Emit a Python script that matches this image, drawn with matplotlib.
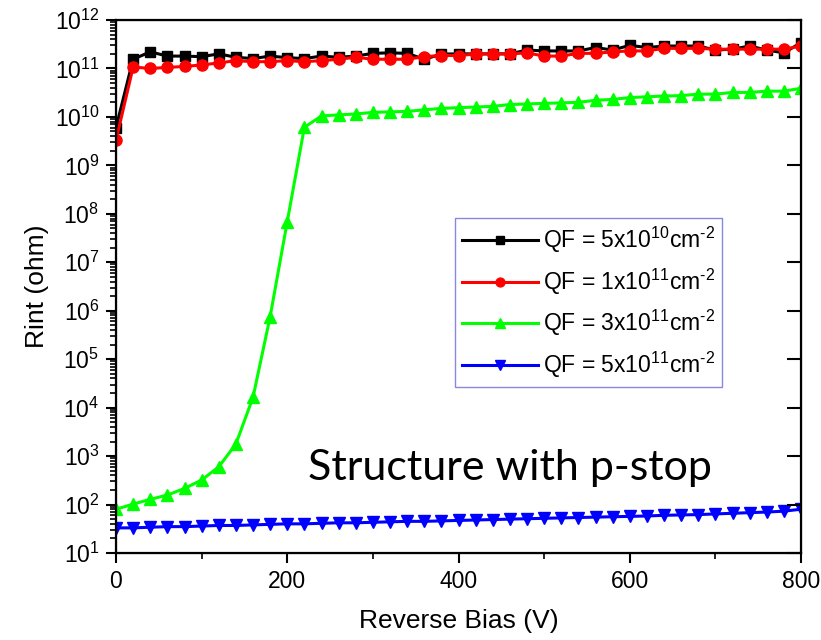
import matplotlib
matplotlib.use('Agg')
import matplotlib.pyplot as plt
from matplotlib.ticker import LogLocator, MultipleLocator, NullFormatter

plt.rcParams['font.family'] = ['Liberation Sans', 'DejaVu Sans']
plt.rcParams['mathtext.fontset'] = 'custom'
plt.rcParams['mathtext.rm'] = 'Liberation Sans'

# Reverse bias (V), every 20 V
bias = list(range(0, 801, 20))

# Rint (ohm)
qf_5e10 = [6e9, 1.55e11, 2.2e11, 1.8e11, 1.8e11, 1.75e11, 2.0e11, 1.7e11, 1.6e11, 1.8e11,
           1.67e11, 1.6e11, 1.8e11, 1.7e11, 1.8e11, 2.05e11, 2.1e11, 2.05e11, 1.55e11, 1.98e11,
           2.0e11, 2.0e11, 2.0e11, 2.0e11, 2.4e11, 2.3e11, 2.3e11, 2.3e11, 2.7e11, 2.4e11,
           3.0e11, 2.7e11, 2.9e11, 2.9e11, 2.9e11, 2.4e11, 2.5e11, 2.9e11, 2.4e11, 2.1e11,
           3.4e11]
qf_1e11 = [3.3e9, 1.07e11, 1.0e11, 1.05e11, 1.1e11, 1.18e11, 1.3e11, 1.45e11, 1.38e11, 1.38e11,
           1.45e11, 1.38e11, 1.45e11, 1.55e11, 1.7e11, 1.55e11, 1.55e11, 1.55e11, 1.75e11, 1.85e11,
           1.85e11, 1.98e11, 2.0e11, 2.0e11, 2.1e11, 1.8e11, 1.8e11, 2.05e11, 2.05e11, 2.2e11,
           2.3e11, 2.3e11, 2.6e11, 2.6e11, 2.6e11, 2.5e11, 2.5e11, 2.5e11, 2.5e11, 2.5e11,
           2.9e11]
qf_3e11 = [80, 102, 128, 157, 215, 320, 600, 1770, 1.63e4, 7.5e5,
           6.9e7, 6.1e9, 1.05e10, 1.1e10, 1.15e10, 1.24e10, 1.27e10, 1.3e10, 1.4e10, 1.5e10,
           1.55e10, 1.6e10, 1.65e10, 1.8e10, 1.85e10, 1.9e10, 1.95e10, 2.0e10, 2.2e10, 2.3e10,
           2.5e10, 2.6e10, 2.7e10, 2.75e10, 2.95e10, 2.95e10, 3.2e10, 3.2e10, 3.4e10, 3.4e10,
           3.9e10]
qf_5e11 = [33, 33, 34, 35, 35, 36, 37, 37, 38, 39,
           40, 40, 41, 42, 42, 43, 44, 45, 45, 46,
           47, 48, 49, 50, 51, 52, 53, 54, 55, 56,
           57, 58, 60, 61, 62, 64, 66, 68, 70, 73,
           80]

labels = [r'QF = 5x10$^{10}$cm$^{\text{-2}}$',
          r'QF = 1x10$^{11}$cm$^{\text{-2}}$',
          r'QF = 3x10$^{11}$cm$^{\text{-2}}$',
          r'QF = 5x10$^{11}$cm$^{\text{-2}}$']

fig = plt.figure(figsize=(8.21, 6.4), dpi=100)
ax = fig.add_axes([116/821, 1 - 553/640, 685/821, 533/640])

ax.plot(bias, qf_5e10, color='black', lw=2.2, marker='s', ms=7, label=labels[0])
ax.plot(bias, qf_1e11, color='red', lw=2.2, marker='o', ms=8, label=labels[1])
ax.plot(bias, qf_3e11, color='#00ff00', lw=2.2, marker='^', ms=8.5, label=labels[2])
ax.plot(bias, qf_5e11, color='blue', lw=2.2, marker='v', ms=8.5, label=labels[3])

ax.set_yscale('log')
ax.set_xlim(0, 800)
ax.set_ylim(10, 1e12)
ax.xaxis.set_major_locator(MultipleLocator(200))
ax.xaxis.set_minor_locator(MultipleLocator(100))
ax.yaxis.set_major_locator(LogLocator(base=10, numticks=20))
ax.yaxis.set_minor_locator(LogLocator(base=10, subs=range(2, 10), numticks=20))
ax.yaxis.set_minor_formatter(NullFormatter())
ax.tick_params(which='major', direction='out', length=7, width=1.5, labelsize=16.5, pad=5)
ax.tick_params(which='minor', direction='out', length=4.5, width=1.2)
ax.tick_params(top=False, right=False)
for sp in ax.spines.values():
    sp.set_linewidth(1.6)

# right side: major ticks pointing in
ax2 = ax.twinx()
ax2.set_yscale('log')
ax2.set_ylim(10, 1e12)
ax2.yaxis.set_major_locator(LogLocator(base=10, numticks=20))
ax2.yaxis.set_minor_locator(plt.NullLocator())
ax2.tick_params(axis='y', direction='in', length=10, width=1.5, labelright=False)

ax.set_xlabel('Reverse Bias (V)', fontsize=19, labelpad=12)
ax.set_ylabel('Rint (ohm)', fontsize=19, labelpad=4)

leg = ax.legend(loc='upper left', bbox_to_anchor=(0.495, 0.6285), borderaxespad=0,
                fontsize=16.5, frameon=True, fancybox=False, handlelength=3.3,
                labelspacing=0.5, borderpad=0.3, handletextpad=0.25, markerscale=0.8)
leg.get_frame().set_edgecolor('#6a6ad8')
leg.get_frame().set_linewidth(1.0)

ax.text(0.575, 0.16, 'Structure with p-stop', transform=ax.transAxes,
        fontsize=31, family='Lato', ha='center', va='center')

fig.savefig('out.png', dpi=100)
